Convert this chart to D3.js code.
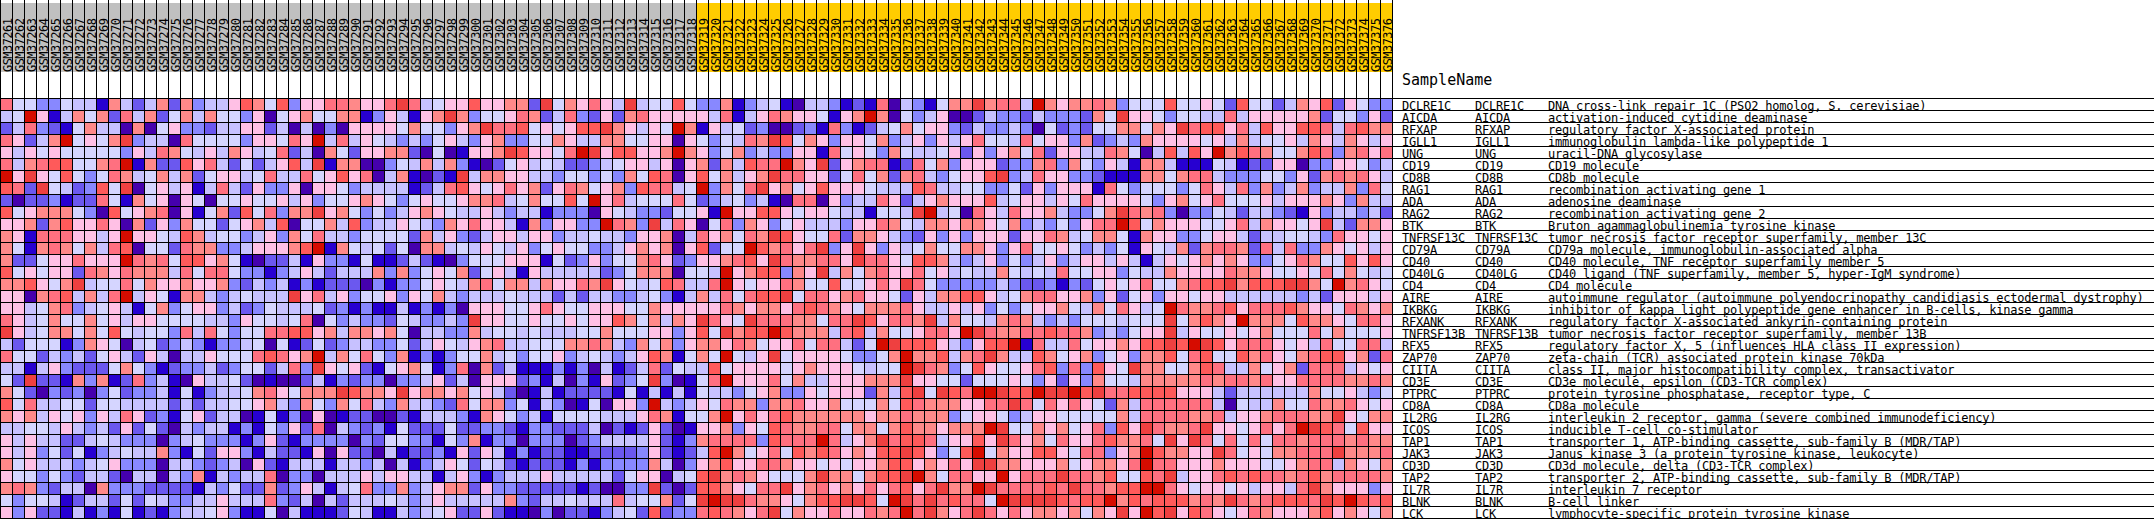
<!DOCTYPE html>
<html>
<head>
<meta charset="utf-8">
<script src="https://cdn.jsdelivr.net/npm/d3@7"></script>
<style>
html,body{margin:0;padding:0;background:#fff;overflow:hidden}
svg{display:block}
text{font-family:"DejaVu Sans Mono",monospace;fill:#000}
</style>
</head>
<body>
<div id="chart"></div>
<script>
const samples = ("GSM37261 GSM37262 GSM37263 GSM37264 GSM37265 GSM37266 GSM37267 GSM37268 GSM37269 GSM37270 GSM37271 GSM37272 GSM37273 GSM37274 GSM37275 GSM37276 GSM37277 GSM37278 GSM37279 GSM37280 GSM37281 GSM37282 GSM37283 GSM37284 GSM37285 GSM37286 GSM37287 GSM37288 GSM37289 GSM37290 GSM37291 GSM37292 GSM37293 GSM37294 GSM37295 GSM37296 GSM37297 GSM37298 GSM37299 GSM37300 GSM37301 GSM37302 GSM37303 GSM37304 GSM37305 GSM37306 GSM37307 GSM37308 GSM37309 GSM37310 GSM37311 GSM37312 GSM37313 GSM37314 GSM37315 GSM37316 GSM37317 GSM37318 GSM37319 GSM37320 GSM37321 GSM37322 GSM37323 GSM37324 GSM37325 GSM37326 GSM37327 GSM37328 GSM37329 GSM37330 GSM37331 GSM37332 GSM37333 GSM37334 GSM37335 GSM37336 GSM37337 GSM37338 GSM37339 GSM37340 GSM37341 GSM37342 GSM37343 GSM37344 GSM37345 GSM37346 GSM37347 GSM37348 GSM37349 GSM37350 GSM37351 GSM37352 GSM37353 GSM37354 GSM37355 GSM37356 GSM37357 GSM37358 GSM37359 GSM37360 GSM37361 GSM37362 GSM37363 GSM37364 GSM37365 GSM37366 GSM37367 GSM37368 GSM37369 GSM37370 GSM37371 GSM37372 GSM37373 GSM37374 GSM37375 GSM37376").split(" ");
const firstGoldSample = "GSM37319";
const genes = ["DCLRE1C","AICDA","RFXAP","IGLL1","UNG","CD19","CD8B","RAG1","ADA","RAG2","BTK","TNFRSF13C","CD79A","CD40","CD40LG","CD4","AIRE","IKBKG","RFXANK","TNFRSF13B","RFX5","ZAP70","CIITA","CD3E","PTPRC","CD8A","IL2RG","ICOS","TAP1","JAK3","CD3D","TAP2","IL7R","BLNK","LCK"];
const descriptions = [
"DNA cross-link repair 1C (PSO2 homolog, S. cerevisiae)",
"activation-induced cytidine deaminase",
"regulatory factor X-associated protein",
"immunoglobulin lambda-like polypeptide 1",
"uracil-DNA glycosylase",
"CD19 molecule",
"CD8b molecule",
"recombination activating gene 1",
"adenosine deaminase",
"recombination activating gene 2",
"Bruton agammaglobulinemia tyrosine kinase",
"tumor necrosis factor receptor superfamily, member 13C",
"CD79a molecule, immunoglobulin-associated alpha",
"CD40 molecule, TNF receptor superfamily member 5",
"CD40 ligand (TNF superfamily, member 5, hyper-IgM syndrome)",
"CD4 molecule",
"autoimmune regulator (autoimmune polyendocrinopathy candidiasis ectodermal dystrophy)",
"inhibitor of kappa light polypeptide gene enhancer in B-cells, kinase gamma",
"regulatory factor X-associated ankyrin-containing protein",
"tumor necrosis factor receptor superfamily, member 13B",
"regulatory factor X, 5 (influences HLA class II expression)",
"zeta-chain (TCR) associated protein kinase 70kDa",
"class II, major histocompatibility complex, transactivator",
"CD3e molecule, epsilon (CD3-TCR complex)",
"protein tyrosine phosphatase, receptor type, C",
"CD8a molecule",
"interleukin 2 receptor, gamma (severe combined immunodeficiency)",
"inducible T-cell co-stimulator",
"transporter 1, ATP-binding cassette, sub-family B (MDR/TAP)",
"Janus kinase 3 (a protein tyrosine kinase, leukocyte)",
"CD3d molecule, delta (CD3-TCR complex)",
"transporter 2, ATP-binding cassette, sub-family B (MDR/TAP)",
"interleukin 7 receptor",
"B-cell linker",
"lymphocyte-specific protein tyrosine kinase"
];
const palette = ["#4500AD","#2700D1","#6B58EF","#8888FF","#C7C1FF","#D5D5FF","#FFC0E5","#FF8989","#FF7080","#FF5A5A","#EF4040","#D60C00"];

// expression level (0-11, hex digit) per gene: first the 58 grey-class samples, then the 58 gold-class samples
const classA = [
"8553354417 4247273446 9759366887 668A845669 66772A5768 64A45595",
"45B6147572 8472574755 3605675577 1364167A73 5568724832 62786666",
"2483215744 0705633244 6624040306 6665755367 A889565699 A76465B7",
"86247B5657 A344085555 366586B484 6543435643 6733557644 77556606",
"6465655555 3648754647 6458240752 6677205016 67A96658BA 699667B7",
"8478995578 B172296842 524694A177 0035474731 0256454223 45664606",
"B6A6595358 7457472566 4584485696 80471021A4 7766443553 53759806",
"982A542395 A056461484 2633606653 4444124896 5686726875 67398845",
"2022312285 1756065055 6556463556 7653565567 784575595B 68455585",
"9567775309 5678061572 958377A675 3534676544 6434413330 65433255",
"6672796686 0726375525 6749055749 3446543768 6641736633 B873A486",
"7618886646 B665497455 3463758443 5555274632 4664663445 44366704",
"7517875748 9055287733 466679B175 4525077454 6546356553 34676706",
"7225668666 B878599675 1022416331 5112421035 5566615236 35578623",
"9565662876 8777485885 3313464244 4737356572 5641644444 23577705",
"779657A455 8576676673 2434131222 0313356547 8577476687 A6545984",
"6607894748 B465177434 5444A68463 5563657434 4454442424 43345314",
"6645783456 4157356634 2354445231 3114131306 6655686556 66557666",
"8645755756 4665555443 6554580534 332543343A 6655655656 69757476",
"A645775759 5455384853 5588996747 7675044337 4554544455 75556636",
"4255513765 0452343133 4505125234 4335246546 7844555778 74375736",
"8552434256 4264044655 589867B475 8537131355 7453556345 43469715",
"4414632225 7531233423 552483A656 2156751380 7241113130 41248254",
"52A2217371 2834106445 2010024132 3303346240 6662314031 6235A301",
"7520323035 2334151344 57865777A9 776A677675 6420141222 21514141",
"9584455255 4444242445 5674375375 8437443285 7735143015 0663B434",
"7674656364 8623156244 0151306012 2002144431 7653415555 44468715",
"4455464342 6252043441 3153628043 2315222522 3321332224 02126201",
"6464422454 3330345333 1362133330 3255331537 1330333023 44446213",
"6463525134 5447315266 3142216062 2041223162 6413122112 22236212",
"7564443456 3330443234 0621444144 3404134652 5421222131 33337403",
"6553532442 0440437143 4480330444 6466441463 1344464444 42566045",
"7873244073 3322221435 2272364145 8337346772 6332222212 0033A202",
"5355412442 5254334464 4483240424 4454346444 4473244544 48455725",
"6362214131 5121344563 1150411125 4114345622 6211030221 34529233"
];
const classB = [
"3371345104 4312180431 577A7884B7 6778735559 5565295524 76926533",
"6481468766 5167B70534 6002433243 33275A6653 5544846666 67255362",
"1645230023 1831245756 6324334305 2325577576 A899684966 99848977",
"535487A957 6366573463 6468554856 6372343766 6656474556 47647646",
"6357343366 1856537544 5626367582 6644875049 496B798755 79837868",
"7274988B76 A267881285 7366623378 3753641774 1115412266 03366534",
"957467A886 6258572784 35669A3486 6332111775 7884333553 62787864",
"B3758A6756 9666544498 4455335263 6661853555 3586483734 73447385",
"2345341088 0634486246 7666945664 6586666536 7568555646 66763744",
"61B6699656 65441554AB 4508648667 43357A8783 0335424432 16344342",
"0583763564 4436687547 7677657343 53688B9576 6655684766 56A42776",
"867587A965 5827764326 3636662668 7457751766 3356642445 54386656",
"9255B97868 A36A636457 5577636855 6534351654 7278872848 33765646",
"667896A877 886A886599 7434635346 3466464146 5676763356 87559696",
"54B6799376 A475786685 6454475454 8556635447 6666877655 65857545",
"48B6566875 5955686A85 3333343223 1325656855 7899A7999A A75B7865",
"7485899A58 8678665264 7799645788 6673625636 6566444444 34266646",
"6687677689 8765777864 4646353566 754758645B 8778968889 76658767",
"A865A88877 588A96887A 4755478743 435554555A 57976B7775 97765886",
"95A799B977 7489475568 86BA877889 887343566A 4655656755 58575556",
"7768756685 88425BA999 643699B184 485667699A 9BA9688865 64855884",
"75B546A566 6653357B77 9478A74497 5673563779 5895597865 78996728",
"4956666567 6665455BA8 7359655689 383965A775 5798447567 28884656",
"58B6668574 4666777A66 5525556536 2637554777 7787887866 88887787",
"5443567336 56662749A5 A98BBA99BA AB9A889999 6664244444 47556435",
"6587737786 6755575987 776688A858 6865274888 8884054475 58778656",
"57B6868977 7777677877 7356653466 5555574888 8778466788 877A6577",
"6673659877 8857757977 6777BA5576 7568396A87 78A6656868 BA985966",
"7888839888 B8467A8998 46696A8675 866897785A 6A85858588 78887877",
"49B7568597 9867699A96 359B576699 6588367B97 766A856577 888A7778",
"6796688766 5656679967 686AA77666 7567768B88 6667666556 78847657",
"9A78765557 A775799AB7 58866B6888 A88795598A 4668989887 89788887",
"9976588A67 8676868968 A77BA88889 8A88799BB8 6566564664 8A766636",
"ABAA877657 99AA95BA8A 89885BAAAA 9899B79899 9787A87899 98A9B989",
"898768A576 6866878B8A 768A868677 67576A6B9A 6986568766 67967657"
];

const width = 2154, height = 519;
const cell = 12, heatTop = 98, heatRight = cell * samples.length;
const headTop = 3, headBottom = 72;

const x = d3.scaleBand().domain(samples).range([0, heatRight]);
const y = d3.scaleBand().domain(genes).range([heatTop, heatTop + cell * genes.length]);
const color = d3.scaleOrdinal().domain(d3.range(palette.length)).range(palette);

const cells = [];
genes.forEach((g, r) => {
  const levels = (classA[r] + classB[r]).replace(/ /g, "");
  if (levels.length !== samples.length) throw new Error(g + " has " + levels.length);
  samples.forEach((s, c) => cells.push({gene: g, sample: s, level: parseInt(levels[c], 16)}));
});

const svg = d3.select("#chart").append("svg").attr("width", width).attr("height", height);

// header bands
svg.append("g").selectAll("rect").data(samples).join("rect")
  .attr("x", d => x(d)).attr("y", headTop)
  .attr("width", cell).attr("height", headBottom - headTop)
  .attr("fill", d => d < firstGoldSample ? "#C0C0C0" : "#FFCC00");

// heat cells
svg.append("g").selectAll("rect").data(cells).join("rect")
  .attr("x", d => x(d.sample) + 0.5).attr("y", d => y(d.gene) + 0.5)
  .attr("width", cell).attr("height", cell)
  .attr("fill", d => color(d.level))
  .attr("stroke", "#000").attr("stroke-width", 1);

// sample labels
svg.append("g").selectAll("text").data(samples).join("text")
  .attr("transform", d => `translate(${x(d) + 11.5},${headBottom}) rotate(-90)`)
  .attr("font-size", 12).attr("letter-spacing", "-0.55px").text(d => d);

// vertical rules above the heat map
svg.append("g").selectAll("line").data(samples.concat(["end"])).join("line")
  .attr("x1", d => (d === "end" ? heatRight : x(d)) + 0.5)
  .attr("x2", d => (d === "end" ? heatRight : x(d)) + 0.5)
  .attr("y1", 0).attr("y2", heatTop)
  .attr("stroke", "#000");

// horizontal rules of the table
const rowEdges = genes.map(g => y(g)).concat([y(genes[genes.length - 1]) + cell]);
svg.append("g").selectAll("line").data(rowEdges).join("line")
  .attr("x1", heatRight).attr("x2", width)
  .attr("y1", d => d + 0.5).attr("y2", d => d + 0.5)
  .attr("stroke", "#000");

// table text
svg.append("text").attr("x", 1402).attr("y", 85).attr("font-size", 15).text("SampleName");
const table = svg.append("g").attr("font-size", 12).attr("letter-spacing", "-0.22px");
genes.forEach((g, i) => {
  const by = y(g) + 11.5;
  table.append("text").attr("x", 1402).attr("y", by).text(g);
  table.append("text").attr("x", 1475).attr("y", by).text(g);
  table.append("text").attr("x", 1548).attr("y", by).text(descriptions[i]);
});
</script>
</body>
</html>
